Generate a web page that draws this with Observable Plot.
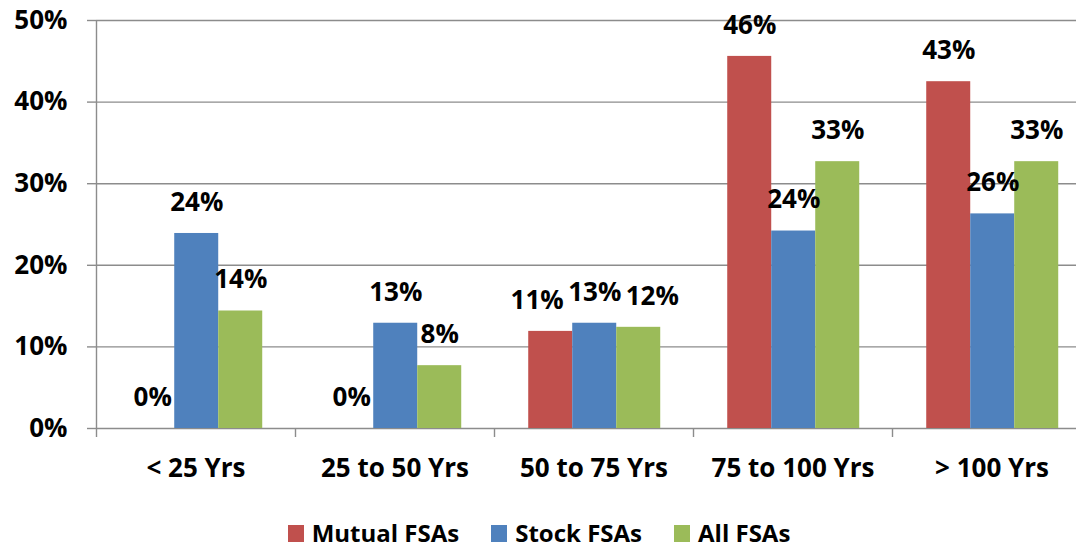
<!DOCTYPE html>
<html>
<head>
<meta charset="utf-8">
<script src="https://cdn.jsdelivr.net/npm/d3@7"></script>
<script src="https://cdn.jsdelivr.net/npm/@observablehq/plot@0.6"></script>
<style>
  html, body { margin: 0; padding: 0; background: #fff; overflow: hidden; }
  body { width: 1076px; height: 547px; position: relative; font-family: "Open Sans", sans-serif; }
  #chart svg { display: block; }
  .legend { position: absolute; left: 0; top: 518px; width: 1076px; height: 29px; display: flex;
            justify-content: center; align-items: center; padding-left: 2px; box-sizing: border-box;
            font: bold 24px/29px "Open Sans", sans-serif; color: #000; }
  .legend .item { display: flex; align-items: center; margin: 0 16px; white-space: nowrap; }
  .legend .sw { width: 16px; height: 17px; margin-right: 8px; margin-top: 2px; }
</style>
</head>
<body>
<div id="chart"></div>
<div class="legend" id="legend"></div>
<script>
const categories = ["< 25 Yrs", "25 to 50 Yrs", "50 to 75 Yrs", "75 to 100 Yrs", "> 100 Yrs"];
const seriesNames = ["Mutual FSAs", "Stock FSAs", "All FSAs"];
const mutualValues = [0, 0, 11.9, 45.6, 42.5];
const stockValues = [23.9, 12.9, 12.9, 24.2, 26.3];
const allValues = [14.4, 7.7, 12.4, 32.7, 32.7];
const mutualLabels = ["0%", "0%", "11%", "46%", "43%"];
const stockLabels = ["24%", "13%", "13%", "24%", "26%"];
const allLabels = ["14%", "8%", "12%", "33%", "33%"];
const yTicks = [0, 10, 20, 30, 40, 50];
const colors = ["#C0504D", "#4F81BD", "#9BBB59"];

const seriesValues = [mutualValues, stockValues, allValues];
const seriesLabels = [mutualLabels, stockLabels, allLabels];

// group layout (fractions of a category band)
const groupOffset = 0.172;
const barWidth = 0.2211;
const nudge = 0.068; // spread crowded labels apart

const rows = [];
categories.forEach((c, ci) => {
  const vals = seriesValues.map(v => v[ci]);
  const crowded = d3.max(vals) - d3.min(vals) < 2;
  seriesNames.forEach((s, si) => {
    const x1 = ci + groupOffset + si * barWidth;
    const shift = crowded ? (si - 1) * nudge : 0;
    rows.push({category: c, series: s, value: vals[si], label: seriesLabels[si][ci],
               x1, x2: x1 + barWidth, xm: x1 + barWidth / 2 + shift});
  });
});

const font = "Open Sans, sans-serif";
const gray = "#8c8c8c";

const plot = Plot.plot({
  width: 1076,
  height: 500,
  marginLeft: 96,
  marginRight: 0,
  marginTop: 20,
  marginBottom: 72,
  style: {fontFamily: font, fontWeight: "bold", color: "#000", background: "#fff", overflow: "visible"},
  x: {type: "linear", domain: [0, 5], range: [96, 1091]},
  y: {domain: [0, 50], range: [428, 20]},
  color: {domain: seriesNames, range: colors},
  marks: [
    Plot.ruleY(yTicks, {y: d => d, x1: 0, x2: 5, stroke: gray, strokeWidth: 1.4}),
    Plot.ruleX([0], {y1: 0, y2: 50, stroke: gray, strokeWidth: 1.4}),
    Plot.axisY({ticks: yTicks, tickSize: 9, tickPadding: 20, tickFormat: d => d + "%",
                fontSize: 26, stroke: gray, strokeWidth: 1.4, label: null, fill: "#000"}),
    Plot.axisX({ticks: d3.range(0, 6), tickSize: 9, tickFormat: () => "", stroke: gray,
                strokeWidth: 1.4, label: null}),
    Plot.axisX({ticks: d3.range(0, 5).map(i => i + 0.5), tickSize: 0, tickPadding: 30,
                tickFormat: d => categories[Math.floor(d)], fontSize: 26, label: null, fill: "#000"}),
    Plot.rectY(rows, {x1: "x1", x2: "x2", y1: 0, y2: "value", fill: "series"}),
    Plot.text(rows, {x: "xm", y: "value", text: "label", dy: -31, fontSize: 26, fontWeight: "bold", fill: "#000"})
  ]
});
document.getElementById("chart").appendChild(plot);

const legend = document.getElementById("legend");
seriesNames.forEach((s, i) => {
  const item = document.createElement("div");
  item.className = "item";
  const sw = document.createElement("span");
  sw.className = "sw";
  sw.style.background = colors[i];
  const t = document.createElement("span");
  t.textContent = s;
  item.appendChild(sw);
  item.appendChild(t);
  legend.appendChild(item);
});
</script>
</body>
</html>
